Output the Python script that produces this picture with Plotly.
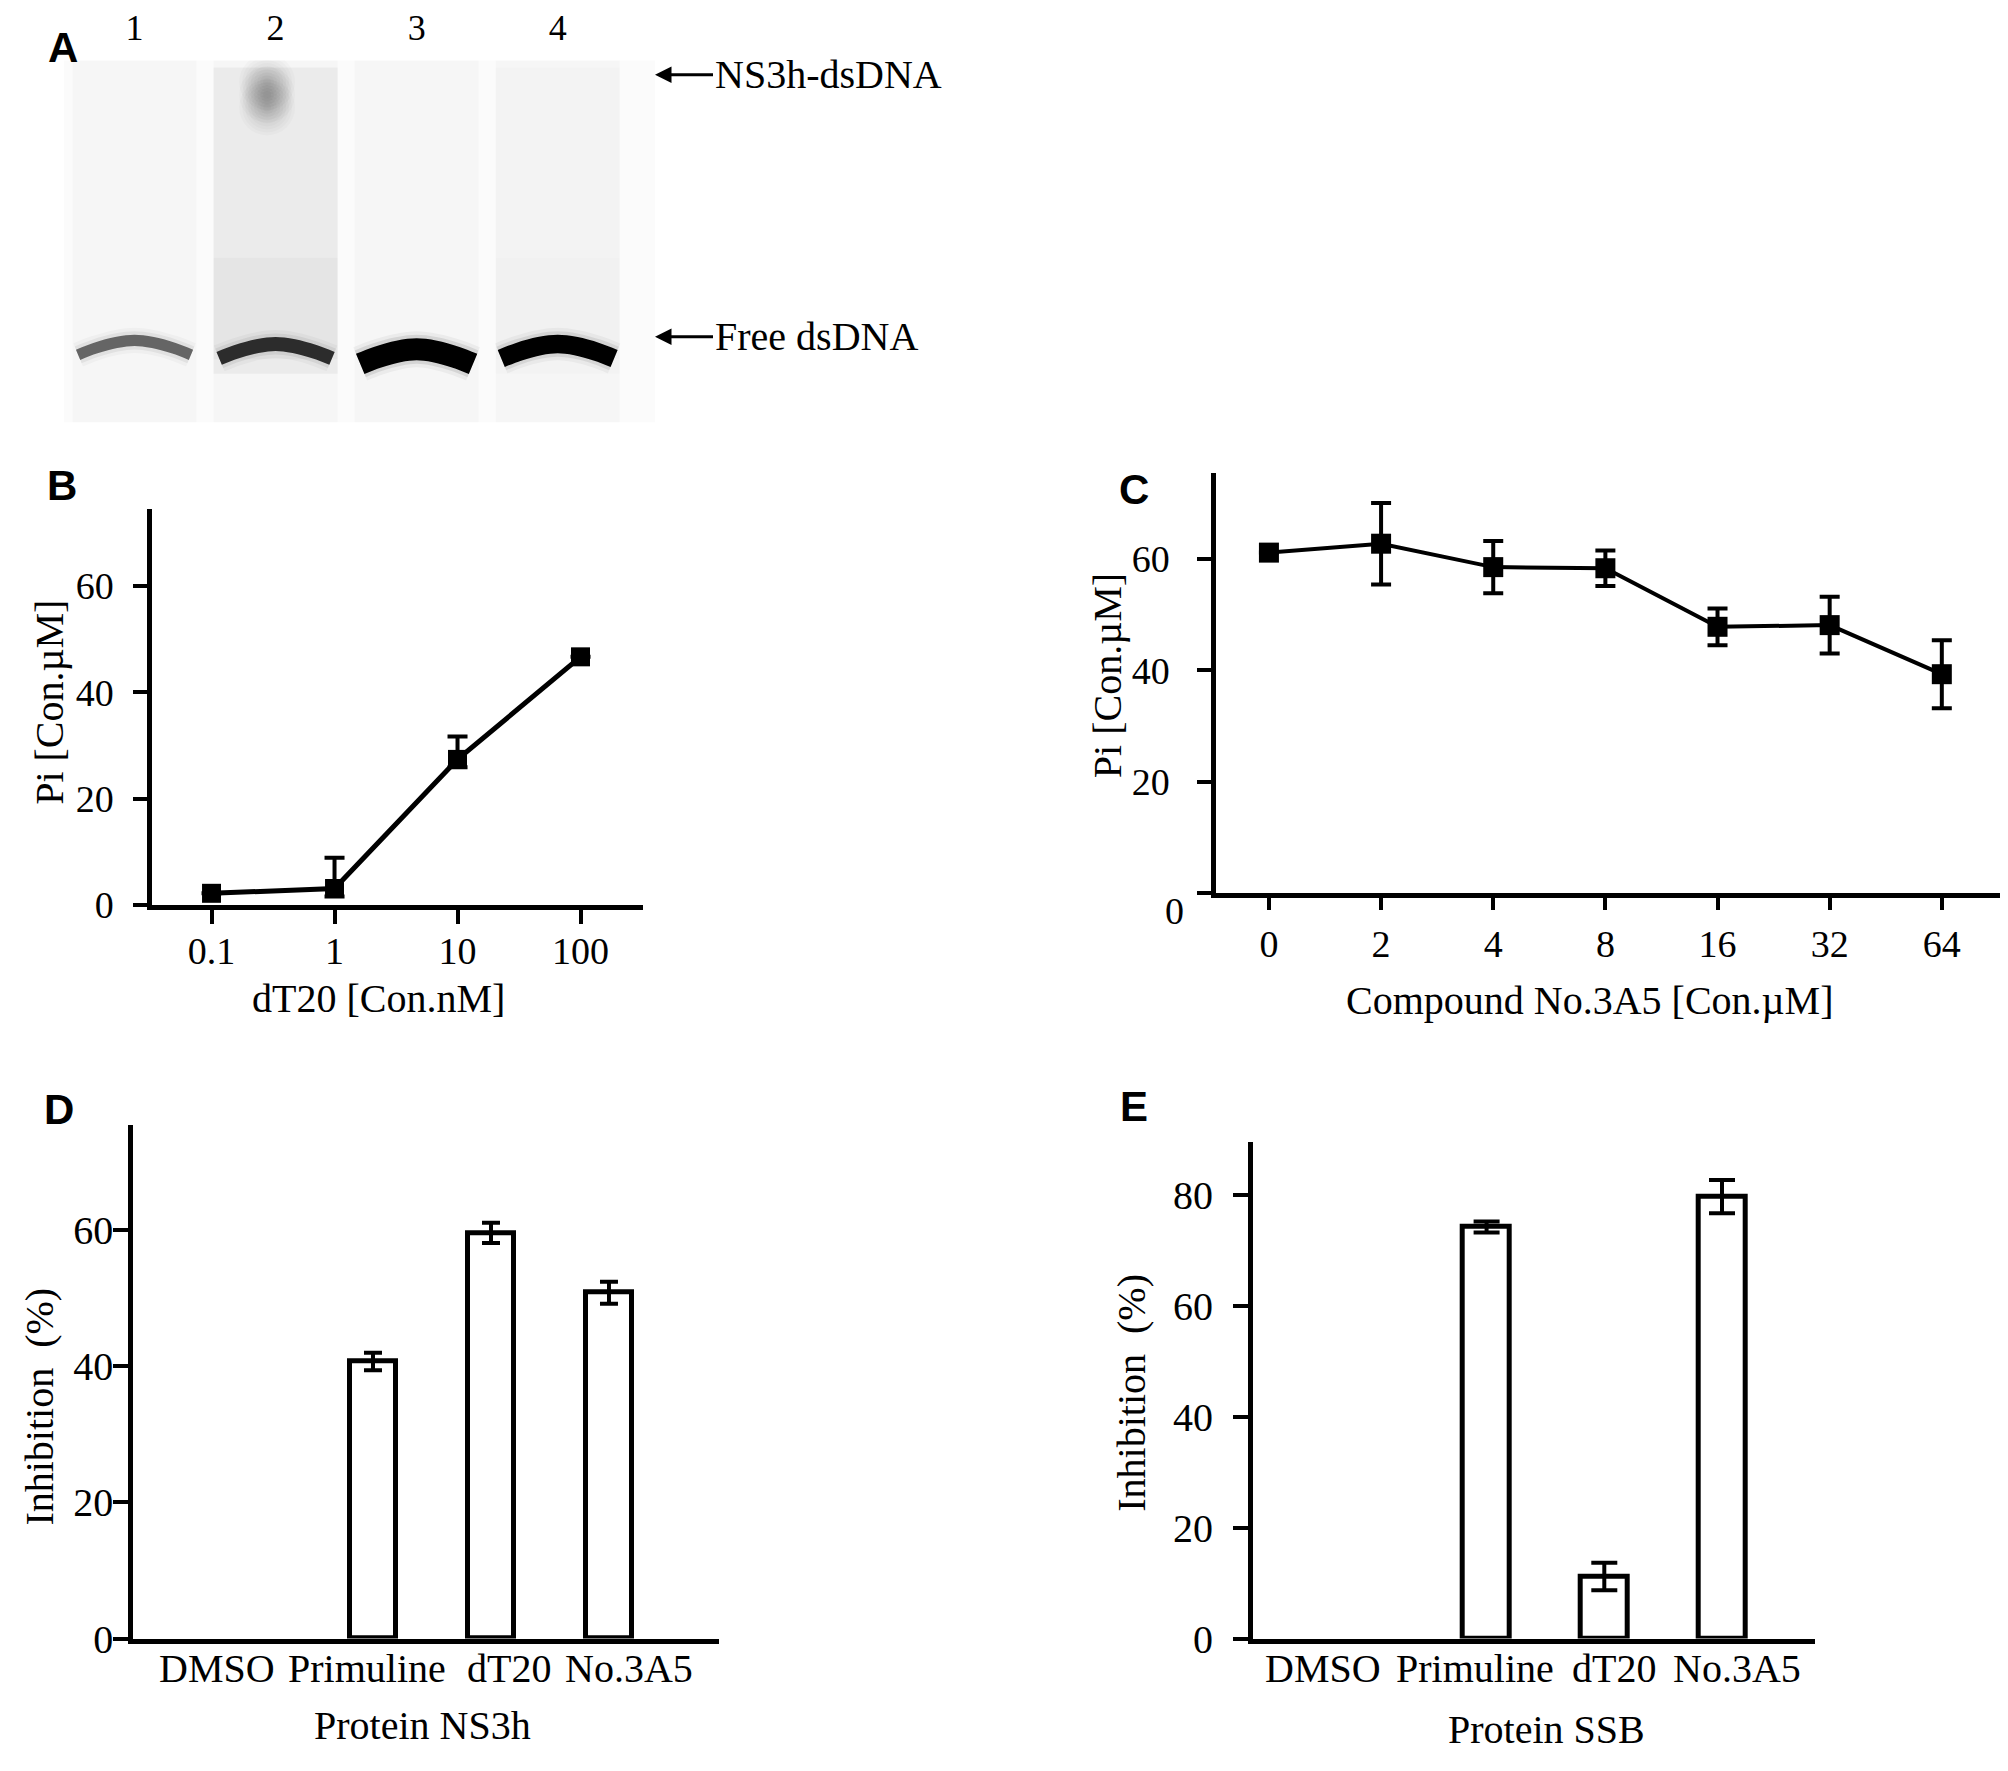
import plotly.graph_objects as go

# ---- data ----
# A: gel lanes
lanes = [1, 2, 3, 4]
lane_labels = ["1", "2", "3", "4"]
free_band_migration = [78.5, 79.5, 81, 79.5]
free_band_signal = [0.4, 0.55, 1.0, 0.8]
lane_smear = [0.0, 0.045, 0.0, 0.012]
complex_lane = 2
complex_migration = 9.5
complex_signal = 0.3

# B: dT20 titration
dt20_conc = [0.1, 1, 10, 100]
pi_dt20 = [2.2, 3.1, 27.4, 46.7]
pi_dt20_err_plus = [0, 5.8, 4.3, 0]
pi_dt20_err_minus = [0, 1.5, 1.5, 0]

# C: compound No.3A5 titration
cmpd_conc = ["0", "2", "4", "8", "16", "32", "64"]
pi_cmpd = [61.1, 62.7, 58.5, 58.3, 47.8, 48.1, 39.3]
pi_cmpd_err = [0, 7.3, 4.7, 3.2, 3.3, 5.1, 6.1]

# D / E: inhibition
treatments = ["DMSO", "Primuline", "dT20", "No.3A5"]
inhib_ns3h = [0, 40.7, 59.6, 50.8]
inhib_ns3h_err = [0, 1.3, 1.5, 1.6]
inhib_ssb = [0, 74.3, 11.2, 79.8]
inhib_ssb_err = [0, 1.0, 2.5, 3.0]

W, H = 2008, 1771
SERIF = "Liberation Serif"
SANS = "Liberation Sans"


def fx(px):
    return px / W


def fy(py):
    return 1 - py / H


def nonzero(vals):
    # an empty (0 %) bar is simply not drawn in the original
    return [v if v else None for v in vals]


fig = go.Figure()

# ---- panel A: gel ----
GEL_X = [0.5, 4.69]
shapes = [dict(type="rect", xref="x5", yref="y5", x0=GEL_X[0], x1=GEL_X[1], y0=0, y1=100,
               fillcolor="#fbfbfb", line=dict(width=0), layer="below")]
for lane, mig, smear in zip(lanes, free_band_migration, lane_smear):
    shapes.append(dict(type="rect", xref="x5", yref="y5", x0=lane - 0.44, x1=lane + 0.44,
                       y0=0, y1=100, fillcolor="rgba(0,0,0,0.02)", line=dict(width=0),
                       layer="below"))
    if smear > 0:
        shapes.append(dict(type="rect", xref="x5", yref="y5", x0=lane - 0.44, x1=lane + 0.44,
                           y0=2, y1=mig + 7, fillcolor="rgba(0,0,0,%.3f)" % smear,
                           line=dict(width=0), layer="below"))
        shapes.append(dict(type="rect", xref="x5", yref="y5", x0=lane - 0.44, x1=lane + 0.44,
                           y0=mig - 25, y1=mig + 3, fillcolor="rgba(0,0,0,%.3f)" % (smear / 2),
                           line=dict(width=0), layer="below"))

arc = [1.0, 0.55, 0.15, 0, 0.15, 0.55, 1.0]
offs = [-0.4, -0.28, -0.13, 0, 0.13, 0.28, 0.4]
for lane, mig, sig in zip(lanes, free_band_migration, free_band_signal):
    xs = [lane + o for o in offs]
    ys = [mig + 4.0 * a - 1.2 for a in arc]
    width = 4 + 18 * sig
    g = int(255 * max(0.0, 1 - 1.5 * sig))
    for extra, alpha in [(14, 0.03), (7, 0.06)]:
        fig.add_trace(go.Scatter(x=xs, y=ys, mode="lines", xaxis="x5", yaxis="y5",
                                 line=dict(color="rgba(0,0,0,%.3f)" % (alpha * (0.5 + sig)),
                                           width=width + extra, shape="spline"),
                                 hoverinfo="skip", showlegend=False))
    fig.add_trace(go.Scatter(x=xs, y=ys, mode="lines", xaxis="x5", yaxis="y5",
                             line=dict(color="rgb(%d,%d,%d)" % (g, g, g), width=width,
                                       shape="spline"),
                             hoverinfo="skip", showlegend=False))

# diffuse complex spot in lane 2
for size in range(56, 6, -6):
    for dy in (-3.5, 0, 3.5):
        fig.add_trace(go.Scatter(x=[complex_lane - 0.06], y=[complex_migration + dy], mode="markers",
                                 xaxis="x5", yaxis="y5",
                                 marker=dict(size=size, color="rgba(0,0,0,%.3f)" % (0.07 * complex_signal),
                                             line=dict(width=0)),
                                 hoverinfo="skip", showlegend=False))

# ---- panel B ----
fig.add_trace(go.Scatter(
    x=dt20_conc, y=pi_dt20, mode="lines+markers", xaxis="x", yaxis="y",
    line=dict(color="black", width=5),
    marker=dict(symbol="square", size=19, color="black"),
    error_y=dict(type="data", symmetric=False, array=pi_dt20_err_plus,
                 arrayminus=pi_dt20_err_minus, color="black", thickness=4, width=10),
    showlegend=False))

# ---- panel C ----
fig.add_trace(go.Scatter(
    x=cmpd_conc, y=pi_cmpd, mode="lines+markers", xaxis="x2", yaxis="y2",
    line=dict(color="black", width=4),
    marker=dict(symbol="square", size=20, color="black"),
    error_y=dict(type="data", array=pi_cmpd_err, color="black", thickness=4, width=10),
    showlegend=False))

# ---- panels D, E ----
fig.add_trace(go.Bar(
    x=treatments, y=nonzero(inhib_ns3h), xaxis="x3", yaxis="y3", width=0.39,
    marker=dict(color="white", line=dict(color="black", width=5)),
    error_y=dict(type="data", array=inhib_ns3h_err, color="black", thickness=4, width=9),
    showlegend=False))
fig.add_trace(go.Bar(
    x=treatments, y=nonzero(inhib_ssb), xaxis="x4", yaxis="y4", width=0.4,
    marker=dict(color="white", line=dict(color="black", width=5)),
    error_y=dict(type="data", array=inhib_ssb_err, color="black", thickness=4, width=13),
    showlegend=False))

axis_style = dict(showline=True, linecolor="black", linewidth=4.5, ticks="outside",
                  tickwidth=4, ticklen=14, tickcolor="black", showgrid=False,
                  zeroline=False, tickfont=dict(family=SERIF, size=38, color="black"))

fig.update_layout(
    width=W, height=H,
    margin=dict(l=0, r=0, t=0, b=0),
    paper_bgcolor="white", plot_bgcolor="white",
    font=dict(family=SERIF, color="black"),
    bargap=0,
    xaxis=dict(axis_style, domain=[fx(144), fx(635)], anchor="y", type="log",
               range=[-1.484, 2.508], tickvals=dt20_conc,
               ticktext=[str(v) for v in dt20_conc], ticklabelstandoff=-5),
    yaxis=dict(axis_style, domain=[fy(908.8), fy(507.7)], anchor="x", range=[0, 74.5],
               tickvals=[0, 20, 40, 60], ticklabelstandoff=12),
    xaxis2=dict(axis_style, domain=[fx(1208), fx(1995.5)], anchor="y2", type="category",
                range=[-0.472, 6.55], ticklen=12, ticklabelstandoff=1),
    yaxis2=dict(axis_style, domain=[fy(897), fy(471)], anchor="x2", range=[0, 75.4],
                tickvals=[0, 20, 40, 60], ticktext=["", "20", "40", "60"],
                ticklabelstandoff=20),
    xaxis3=dict(axis_style, domain=[fx(125), fx(710.7)], anchor="y3", type="category",
                categoryorder="array", categoryarray=treatments,
                range=[-1.034, 3.93], ticks="", showticklabels=False),
    yaxis3=dict(axis_style, domain=[fy(1652), fy(1132)], anchor="x3", range=[0, 75.4],
                tickvals=[0, 20, 40, 60], ticklen=15,
                tickfont=dict(family=SERIF, size=40, color="black"), ticklabelstandoff=-8),
    xaxis4=dict(axis_style, domain=[fx(1244.7), fx(1807)], anchor="y4", type="category",
                categoryorder="array", categoryarray=treatments,
                range=[-0.987, 3.79], ticks="", showticklabels=False),
    yaxis4=dict(axis_style, domain=[fy(1652), fy(1148.6)], anchor="x4", range=[0, 89.7],
                tickvals=[0, 20, 40, 60, 80], ticklen=15,
                tickfont=dict(family=SERIF, size=40, color="black"), ticklabelstandoff=12),
    xaxis5=dict(domain=[fx(56), fx(647)], anchor="y5", range=GEL_X, side="top",
                showline=False, showgrid=False, zeroline=False, ticks="",
                tickvals=lanes, ticktext=lane_labels, ticklabelstandoff=12,
                tickfont=dict(family=SERIF, size=36, color="black")),
    yaxis5=dict(domain=[fy(420), fy(53)], anchor="x5", range=[100, 0], visible=False),
    shapes=shapes,
)

ann = []
# panel letters
for letter, (px, py) in zip("ABCDE", [(55, 40), (54, 484), (1126, 488), (51, 1116), (1126, 1113)]):
    ann.append(dict(text=letter, x=fx(px), y=fy(py), xref="paper", yref="paper",
                    showarrow=False, xanchor="center", yanchor="middle",
                    font=dict(family=SANS, size=42, color="black", weight="bold")))

# gel arrows
ann.append(dict(text="NS3h-dsDNA", x=GEL_X[1], y=complex_migration, xref="x5", yref="y5",
                yshift=20, showarrow=True, ax=58, ay=0, xanchor="left", arrowhead=2,
                arrowsize=1.1, arrowwidth=3, arrowcolor="black", standoff=0,
                font=dict(family=SERIF, size=40, color="black")))
ann.append(dict(text="Free dsDNA", x=GEL_X[1], y=free_band_migration[0], xref="x5", yref="y5",
                yshift=8, showarrow=True, ax=58, ay=0, xanchor="left", arrowhead=2,
                arrowsize=1.1, arrowwidth=3, arrowcolor="black", standoff=0,
                font=dict(family=SERIF, size=40, color="black")))

# axis titles
titles = [
    ("dT20 [Con.nM]", 370, 1004, 0),
    ("Pi [Con.\u00b5M]", 42, 704, -90),
    ("Compound No.3A5 [Con.\u00b5M]", 1582, 1006, 0),
    ("Pi [Con.\u00b5M]", 1099, 677, -90),
    ("Protein NS3h", 414, 1740, 0),
    ("Inhibition\u00a0 (%)", 32, 1417, -90),
    ("Protein SSB", 1538, 1744, 0),
    ("Inhibition\u00a0 (%)", 1124, 1403, -90),
]
for text, px, py, ang in titles:
    ann.append(dict(text=text, x=fx(px), y=fy(py), xref="paper", yref="paper",
                    showarrow=False, textangle=ang, xanchor="center", yanchor="middle",
                    font=dict(family=SERIF, size=40, color="black")))

# lone "0" label of panel C sits a little below the axis
ann.append(dict(text="0", x=fx(1166), y=fy(915), xref="paper", yref="paper",
                showarrow=False, font=dict(family=SERIF, size=38, color="black")))

# category labels of D and E (packed tightly, shifted like the original)
for i, t in enumerate(treatments):
    ann.append(dict(text=t, x=i, y=fy(1682), xref="x3", yref="paper", showarrow=False,
                    xshift=[-38, -6, 18, 20][i], yanchor="middle",
                    font=dict(family=SERIF, size=40, color="black")))
    ann.append(dict(text=t, x=i, y=fy(1682), xref="x4", yref="paper", showarrow=False,
                    xshift=[-46, -12, 10, 15][i], yanchor="middle",
                    font=dict(family=SERIF, size=40, color="black")))

fig.update_layout(annotations=ann)

fig.write_html("out.html")
